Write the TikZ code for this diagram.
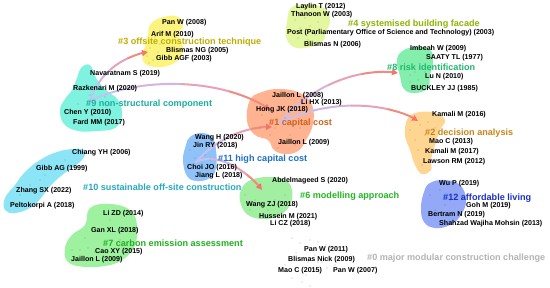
\documentclass[tikz,border=0pt]{standalone}
\usepackage{fontspec}
\setmainfont{Liberation Sans}
\usetikzlibrary{arrows.meta,calc}
\definecolor{b3}{HTML}{FDF480}
\definecolor{b9}{HTML}{80F2E0}
\definecolor{b4}{HTML}{E3F7A0}
\definecolor{b8}{HTML}{84EFAD}
\definecolor{b1}{HTML}{FFB390}
\definecolor{b11}{HTML}{8FC2F8}
\definecolor{b10}{HTML}{8BE5F6}
\definecolor{b7}{HTML}{9EF19E}
\definecolor{b6}{HTML}{A2EFA2}
\definecolor{b2}{HTML}{FFD592}
\definecolor{b12}{HTML}{93A8F6}
\definecolor{t3}{HTML}{BFAE00}
\definecolor{t4}{HTML}{8CB400}
\definecolor{t9}{HTML}{1AAE9F}
\definecolor{t8}{HTML}{20B870}
\definecolor{t1}{HTML}{D0601E}
\definecolor{t2}{HTML}{C8861A}
\definecolor{t11}{HTML}{1F6FC8}
\definecolor{t10}{HTML}{28A8C0}
\definecolor{t7}{HTML}{20B020}
\definecolor{t6}{HTML}{22B822}
\definecolor{t12}{HTML}{1A30C8}
\definecolor{t0}{HTML}{B4B4B4}
\definecolor{ca}{HTML}{C6C2F0}
\definecolor{cb}{HTML}{D4B4E0}
\definecolor{cc}{HTML}{E8A2B8}
\definecolor{cd}{HTML}{F28A80}
\definecolor{ctip}{HTML}{F2766B}
\newcommand\clarc[4]{%
 \coordinate (P0) at (#1); \coordinate (P1) at #2; \coordinate (P2) at #3; \coordinate (P3) at (#4);
 \coordinate (Q1) at ($(P0)!0.5!(P1)$);
 \coordinate (Q2) at ($(P1)!0.5!(P2)$);
 \coordinate (Q3) at ($(P2)!0.5!(P3)$);
 \coordinate (R1) at ($(Q1)!0.5!(Q2)$);
 \coordinate (R2) at ($(Q2)!0.5!(Q3)$);
 \coordinate (MM) at ($(R1)!0.5!(R2)$);
 \coordinate (A1) at ($(P0)!0.5!(Q1)$);
 \coordinate (A2) at ($(Q1)!0.5!(R1)$);
 \coordinate (A3) at ($(R1)!0.5!(MM)$);
 \coordinate (A12) at ($(A1)!0.5!(A2)$);
 \coordinate (A23) at ($(A2)!0.5!(A3)$);
 \coordinate (MA) at ($(A12)!0.5!(A23)$);
 \coordinate (B1) at ($(MM)!0.5!(R2)$);
 \coordinate (B2) at ($(R2)!0.5!(Q3)$);
 \coordinate (B3) at ($(Q3)!0.5!(P3)$);
 \coordinate (B12) at ($(B1)!0.5!(B2)$);
 \coordinate (B23) at ($(B2)!0.5!(B3)$);
 \coordinate (MB) at ($(B12)!0.5!(B23)$);
 \draw[arcseg,draw=ca] (P0) .. controls (A1) and (A12) .. (MA);
 \draw[arcseg,draw=cb] (MA) .. controls (A23) and (A3) .. (MM);
 \draw[arcseg,draw=cc] (MM) .. controls (B1) and (B12) .. (MB);
 \draw[arcseg,draw=cd,arctip] (MB) .. controls (B23) and (B3) .. (P3);}
\begin{document}
\begin{tikzpicture}[x=1pt,y=-1pt,
  au/.style={font=\fontsize{7.1}{8}\selectfont\bfseries, text=black, inner sep=0pt, anchor=west},
  cl/.style={font=\fontsize{9.1}{10}\selectfont\bfseries, inner sep=0pt, anchor=west},
  arcseg/.style={line width=2pt, line cap=round},
  arctip/.style={-{Triangle[length=6pt,width=6pt,color=ctip]}},
  dot/.style={fill=black!80}]
\useasboundingbox (0,0) rectangle (550,288);
\fill[white] (0,0) rectangle (550,288);
% blobs
\fill[b3] plot[smooth cycle,tension=0.7] coordinates {(150,25)(160,18)(176,16)(183,24)(179,35)(183,48)(180,58)(170,65)(155,67)(143,61)(145,46)(148,35)};
\fill[b9] plot[smooth cycle,tension=0.7] coordinates {(81,68)(90,65)(96,78)(106,90)(118,100)(122,115)(115,128)(96,131)(78,131)(64,124)(60,110)(65,99)(72,90)(77,78)};
\fill[b4] plot[smooth cycle,tension=0.7] coordinates {(291,8)(305,4)(324,8)(330,20)(326,32)(322,42)(305,48)(292,46)(286,36)(287,22)};
\fill[b8] plot[smooth cycle,tension=0.7] coordinates {(401,52)(415,47)(430,50)(433,62)(430,75)(428,88)(415,93)(404,89)(400,76)(397,62)};
\fill[b1] plot[smooth cycle,tension=0.7] coordinates {(250,100)(262,92)(280,89)(300,93)(312,105)(313,124)(306,140)(298,151)(285,154)(274,150)(268,140)(255,135)(247,121)};
\fill[b11] plot[smooth cycle,tension=0.7] coordinates {(190,137)(201,133)(212,137)(216,150)(216,168)(210,178)(197,181)(187,176)(183,160)(186,145)};
\fill[b10] plot[smooth cycle,tension=0.7] coordinates {(74,149)(85,151)(81,161)(66,172)(51,185)(41,198)(30,208)(15,213)(5,210)(5,198)(15,185)(25,172)(40,160)(57,152)};
\fill[b7] plot[smooth cycle,tension=0.7] coordinates {(90,208)(110,204)(130,210)(137,225)(135,245)(125,258)(110,265)(86,267)(68,262)(65,248)(72,235)(85,225)};
\fill[b6] plot[smooth cycle,tension=0.7] coordinates {(251,180)(268,177)(285,180)(292,190)(290,205)(280,215)(265,219)(248,215)(240,201)(242,188)};
\fill[b2] plot[smooth cycle,tension=0.7] coordinates {(408,118)(420,112)(435,113)(445,120)(440,130)(435,145)(431,160)(431,170)(422,174)(415,165)(410,150)(405,135)};
\fill[b12] plot[smooth cycle,tension=0.7] coordinates {(430,183)(445,180)(460,185)(466,200)(461,215)(450,225)(435,228)(424,222)(421,208)(424,192)};
% arc end points
\coordinate (s9) at (90,101);
\coordinate (e3) at (148,52);
\coordinate (e1a) at (270,110);
\coordinate (s1) at (280,124);
\coordinate (e8) at (398,73);
\coordinate (e2) at (418,121);
\coordinate (s11) at (196,162);
\coordinate (e1b) at (272,127);
\coordinate (e6) at (262,190);
\clarc{s9}{(98,75)}{(120,57)}{e3}
\clarc{s9}{(140,76)}{(225,78)}{e1a}
\clarc{s1}{(300,95)}{(350,66)}{e8}
\clarc{s1}{(320,100)}{(385,100)}{e2}
\clarc{s11}{(215,140)}{(245,126)}{e1b}
\clarc{s11}{(215,152)}{(245,168)}{e6}
% dots
\foreach \p in {(147,56),(150,48),(153,60),(158,52),(160,44),(165,57),(170,40),(155,37),(149,63),
 (80,90),(90,95),(95,110),(100,118),(70,112),(85,120),(110,105),(105,97),(78,104),
 (295,20),(300,28),(305,18),(310,26),(315,35),(318,22),(298,38),(308,40),
 (405,70),(410,75),(415,72),(418,80),(420,65),(425,72),(410,82),(430,70),
 (262,115),(270,135),(275,128),(283,140),(290,135),(295,145),(300,128),(285,118),(305,110),(260,128),(278,148),(293,125),
 (190,150),(195,158),(200,165),(205,155),(210,160),
 (30,185),(40,180),(55,170),(20,195),(65,160),(45,175),
 (72,250),(80,250),(88,248),(95,252),(110,220),(120,240),(125,230),(105,258),(85,238),
 (245,195),(255,200),(260,185),(268,210),(275,200),(285,195),(250,210),
 (410,130),(415,140),(420,125),(425,135),(418,150),(430,148),(422,165),(428,122),(435,128),
 (430,195),(440,190),(445,205),(450,200),(455,195),(435,210),
 (292,238),(300,243),(310,240),(318,242),(326,245),(296,253),(315,255),(322,262),(285,265),(298,270),(306,275),(312,268),(320,272),(327,268),(335,265),(302,282),(310,286),(318,262),(292,278),(308,262)}
  \fill[dot] \p circle (0.45);
% cluster 3
\node[cl,text=t3] (c3) at (118,42) {\#3 offsite construction technique};
\node[au] (a31) at (162,23) {Pan W (2008)};
\node[au] (a32) at (151,35) {Arif M (2010)};
\node[au] (a33) at (166,51) {Blismas NG (2005)};
\node[au] (a34) at (156,59) {Gibb AGF (2003)};
% cluster 9
\node[cl,text=t9] (c9) at (86,104) {\#9 non-structural component};
\node[au] (a91) at (90,74) {Navaratnam S (2019)};
\node[au] (a92) at (73,89) {Razkenari M (2020)};
\node[au] (a93) at (64,113) {Chen Y (2010)};
\node[au] (a94) at (73,123) {Fard MM (2017)};
% cluster 4
\node[cl,text=t4] (c4) at (348,24) {\#4 systemised building facade};
\node[au] (a41) at (296,6.5) {Laylin T (2012)};
\node[au] (a42) at (291,15) {Thanoon W (2003)};
\node[au] (a43) at (287,33) {Post (Parliamentary Office of Science and Technology) (2003)};
\node[au] (a44) at (304,45) {Blismas N (2006)};
% cluster 8
\node[cl,text=t8] (c8) at (387,67) {\#8 risk identification};
\node[au] (a81) at (410,49) {Imbeah W (2009)};
\node[au] (a82) at (426,58) {SAATY TL (1977)};
\node[au] (a83) at (425,77) {Lu N (2010)};
\node[au] (a84) at (411,89) {BUCKLEY JJ (1985)};
% cluster 1
\node[cl,text=t1] (c1) at (269,123) {\#1 capital cost};
\node[au] (a11) at (272,96) {Jaillon L (2008)};
\node[au] (a12) at (301,103) {Li HX (2013)};
\node[au] (a13) at (256,110) {Hong JK (2018)};
\node[au] (a14) at (278,143) {Jaillon L (2009)};
% cluster 11
\node[cl,text=t11] (c11) at (218,159) {\#11 high capital cost};
\node[au] (b111) at (195,138) {Wang H (2020)};
\node[au] (b112) at (193,146) {Jin RY (2018)};
\node[au] (b113) at (187,168) {Choi JO (2016)};
\node[au] (b114) at (195,176) {Jiang L (2018)};
% cluster 10
\node[cl,text=t10] (c10) at (83,187) {\#10 sustainable off-site construction};
\node[au] (b101) at (72,153) {Chiang YH (2006)};
\node[au] (b102) at (36,169) {Gibb AG (1999)};
\node[au] (b103) at (16,191) {Zhang SX (2022)};
\node[au] (b104) at (10,206) {Peltokorpi A (2018)};
% cluster 7
\node[cl,text=t7] (c7) at (103,243) {\#7 carbon emission assessment};
\node[au] (a71) at (103,214) {Li ZD (2014)};
\node[au] (a72) at (91,231) {Gan XL (2018)};
\node[au] (a73) at (95,252) {Cao XY (2015)};
\node[au] (a74) at (71,260) {Jaillon L (2009)};
% cluster 6
\node[cl,text=t6] (c6) at (300,196) {\#6 modelling approach};
\node[au] (a61) at (272,181) {Abdelmageed S (2020)};
\node[au] (a62) at (246,205) {Wang ZJ (2018)};
\node[au] (a63) at (259,217) {Hussein M (2021)};
\node[au] (a64) at (270,224) {Li CZ (2018)};
% cluster 2
\node[cl,text=t2] (c2) at (425,133) {\#2 decision analysis};
\node[au] (a21) at (432,115) {Kamali M (2016)};
\node[au] (a22) at (429,142) {Mao C (2013)};
\node[au] (a23) at (425,152) {Kamali M (2017)};
\node[au] (a24) at (423,162) {Lawson RM (2012)};
% cluster 12
\node[cl,text=t12] (c12) at (443,198) {\#12 affordable living};
\node[au] (b121) at (439,184) {Wu P (2019)};
\node[au] (b122) at (466,206) {Goh M (2019)};
\node[au] (b123) at (428,215) {Bertram N (2019)};
\node[au] (b124) at (439,224) {Shahzad Wajiha Mohsin (2013)};
% cluster 0
\node[cl,text=t0] (c0) at (367,258) {\#0 major modular construction challenge};
\node[au] (a01) at (304,250) {Pan W (2011)};
\node[au] (a02) at (288,260) {Blismas Nick (2009)};
\node[au] (a03) at (278,271) {Mao C (2015)};
\node[au] (a04) at (333,271) {Pan W (2007)};
\end{tikzpicture}
\end{document}
